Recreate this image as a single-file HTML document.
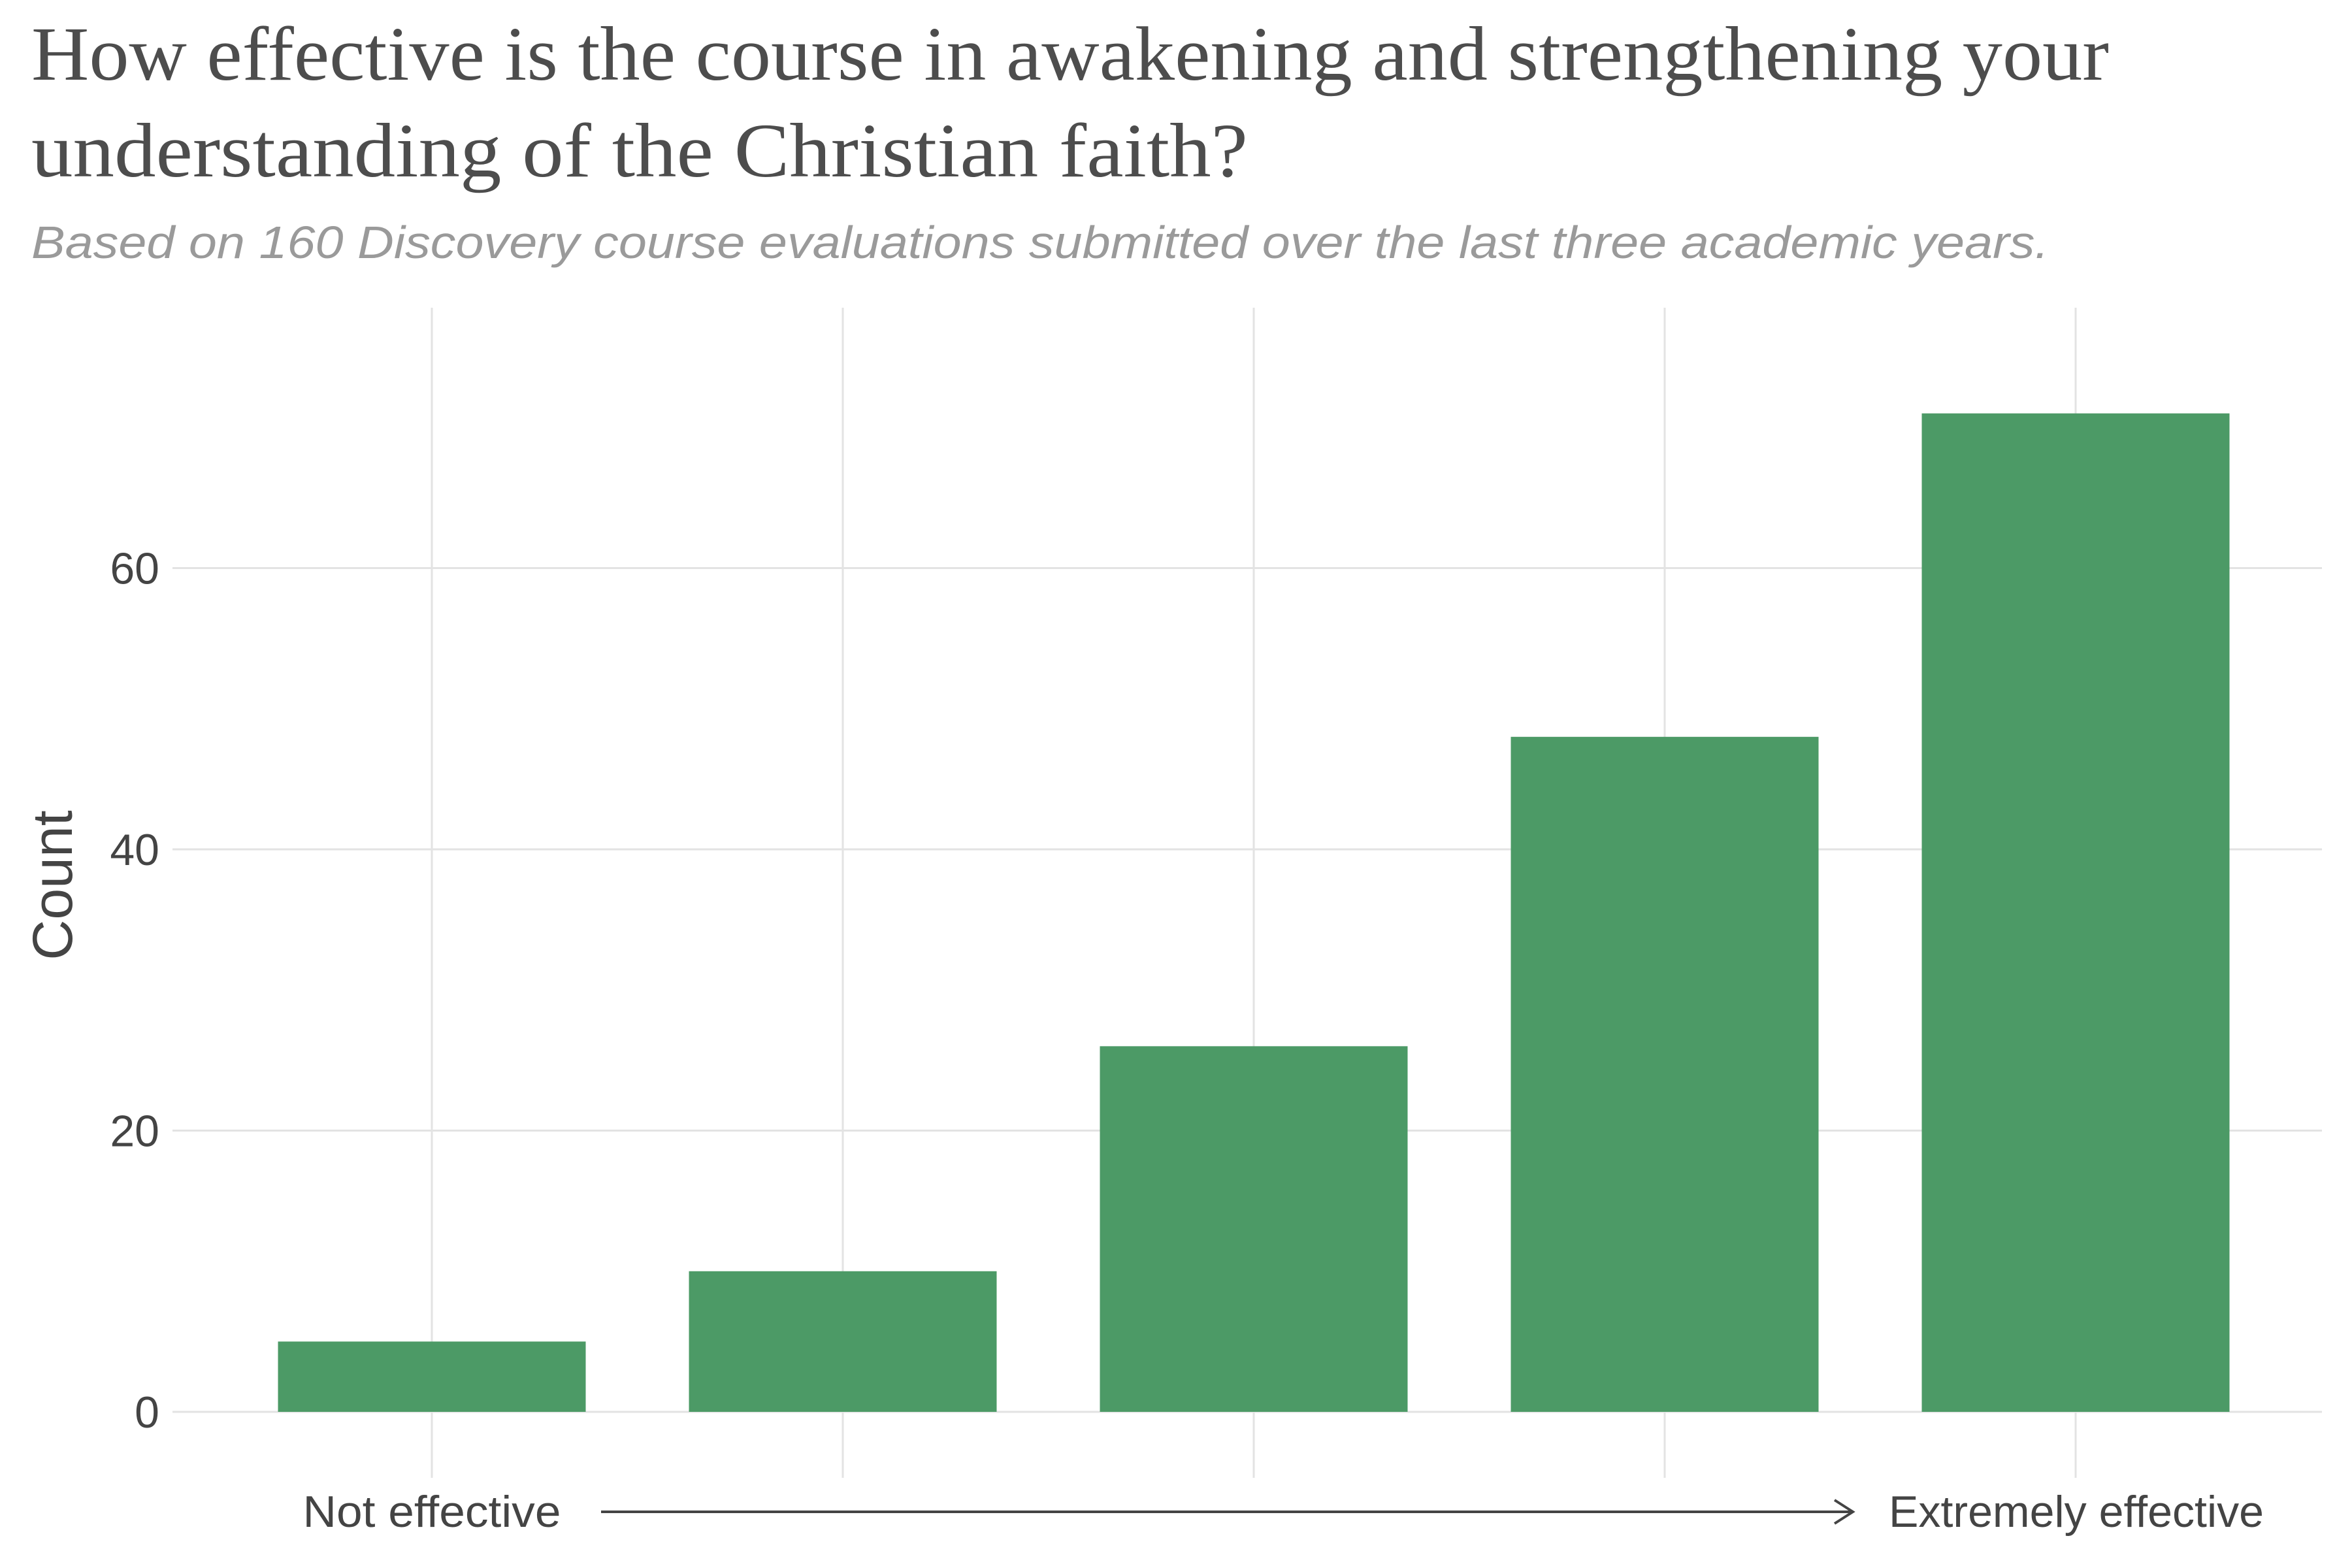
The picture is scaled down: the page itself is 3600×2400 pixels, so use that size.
<!DOCTYPE html>
<html><head><meta charset="utf-8"><style>
html,body{margin:0;padding:0;background:#fff}
svg{display:block}
</style></head><body>
<svg id="chart" width="3600" height="2400" viewBox="0 0 3600 2400" xmlns="http://www.w3.org/2000/svg">
<rect width="3600" height="2400" fill="#fff"/>
<text x="48" y="122" font-family="Liberation Serif, serif" font-size="118" fill="#4d4d4d" textLength="3180" lengthAdjust="spacingAndGlyphs">How effective is the course in awakening and strengthening your</text>
<text x="48" y="270" font-family="Liberation Serif, serif" font-size="118" fill="#4d4d4d" textLength="1862" lengthAdjust="spacingAndGlyphs">understanding of the Christian faith?</text>
<text x="48" y="395" font-family="Liberation Sans, sans-serif" font-style="italic" font-size="70" fill="#9a9a9a" textLength="3088" lengthAdjust="spacingAndGlyphs">Based on 160 Discovery course evaluations submitted over the last three academic years.</text>
<g id="grid"></g>
<g id="bars"></g>
<g id="yticks"></g>
<text transform="translate(110,1355) rotate(-90)" text-anchor="middle" font-family="Liberation Sans, sans-serif" font-size="86" fill="#444">Count</text>
<text x="661" y="2337" text-anchor="middle" font-family="Liberation Sans, sans-serif" font-size="68" fill="#444" textLength="395" lengthAdjust="spacingAndGlyphs">Not effective</text>
<text x="3178" y="2337" text-anchor="middle" font-family="Liberation Sans, sans-serif" font-size="68" fill="#444" textLength="574" lengthAdjust="spacingAndGlyphs">Extremely effective</text>
<g>
<line x1="920" y1="2314" x2="2836" y2="2314" stroke="#444" stroke-width="4"/>
<polyline points="2808,2296 2836,2314 2808,2332" fill="none" stroke="#444" stroke-width="4"/>
</g>
</svg>
<script>
const categories = ["1","2","3","4","5"];
const counts = [5, 10, 26, 48, 71];
const yTickValues = [0, 20, 40, 60];
const yTickLabels = ["0","20","40","60"];

const NS = "http://www.w3.org/2000/svg";
const plotLeft = 264, plotRight = 3554, plotTop = 471, plotBottom = 2262;
const firstX = 661, stepX = 629, barW = 471;
const y0 = 2161, perUnit = 430.5 / 20;
function xScale(i){ return firstX + i * stepX; }
function yScale(v){ return y0 - v * perUnit; }

const grid = document.getElementById('grid');
yTickValues.forEach((v, i) => {
  const l = document.createElementNS(NS, 'line');
  l.setAttribute('x1', plotLeft); l.setAttribute('x2', plotRight);
  l.setAttribute('y1', yScale(v)); l.setAttribute('y2', yScale(v));
  l.setAttribute('stroke', '#e3e3e3'); l.setAttribute('stroke-width', '3');
  
  
  grid.appendChild(l);
  const t = document.createElementNS(NS, 'text');
  t.setAttribute('x', 244); t.setAttribute('y', yScale(v) + 24);
  t.setAttribute('text-anchor', 'end');
  t.setAttribute('font-family', 'Liberation Sans, sans-serif');
  t.setAttribute('font-size', '68'); t.setAttribute('fill', '#444');
  t.textContent = yTickLabels[i];
  
  
  document.getElementById('yticks').appendChild(t);
});
categories.forEach((c, i) => {
  const l = document.createElementNS(NS, 'line');
  l.setAttribute('x1', xScale(i)); l.setAttribute('x2', xScale(i));
  l.setAttribute('y1', plotTop); l.setAttribute('y2', plotBottom);
  l.setAttribute('stroke', '#e3e3e3'); l.setAttribute('stroke-width', '3');
  
  
  grid.appendChild(l);
});
const bars = document.getElementById('bars');
counts.forEach((v, i) => {
  const r = document.createElementNS(NS, 'rect');
  r.setAttribute('x', xScale(i) - barW / 2);
  r.setAttribute('y', yScale(v));
  r.setAttribute('width', barW);
  r.setAttribute('height', y0 - yScale(v));
  r.setAttribute('fill', '#4c9a66');
  
  
  bars.appendChild(r);
});
</script>
</body></html>
